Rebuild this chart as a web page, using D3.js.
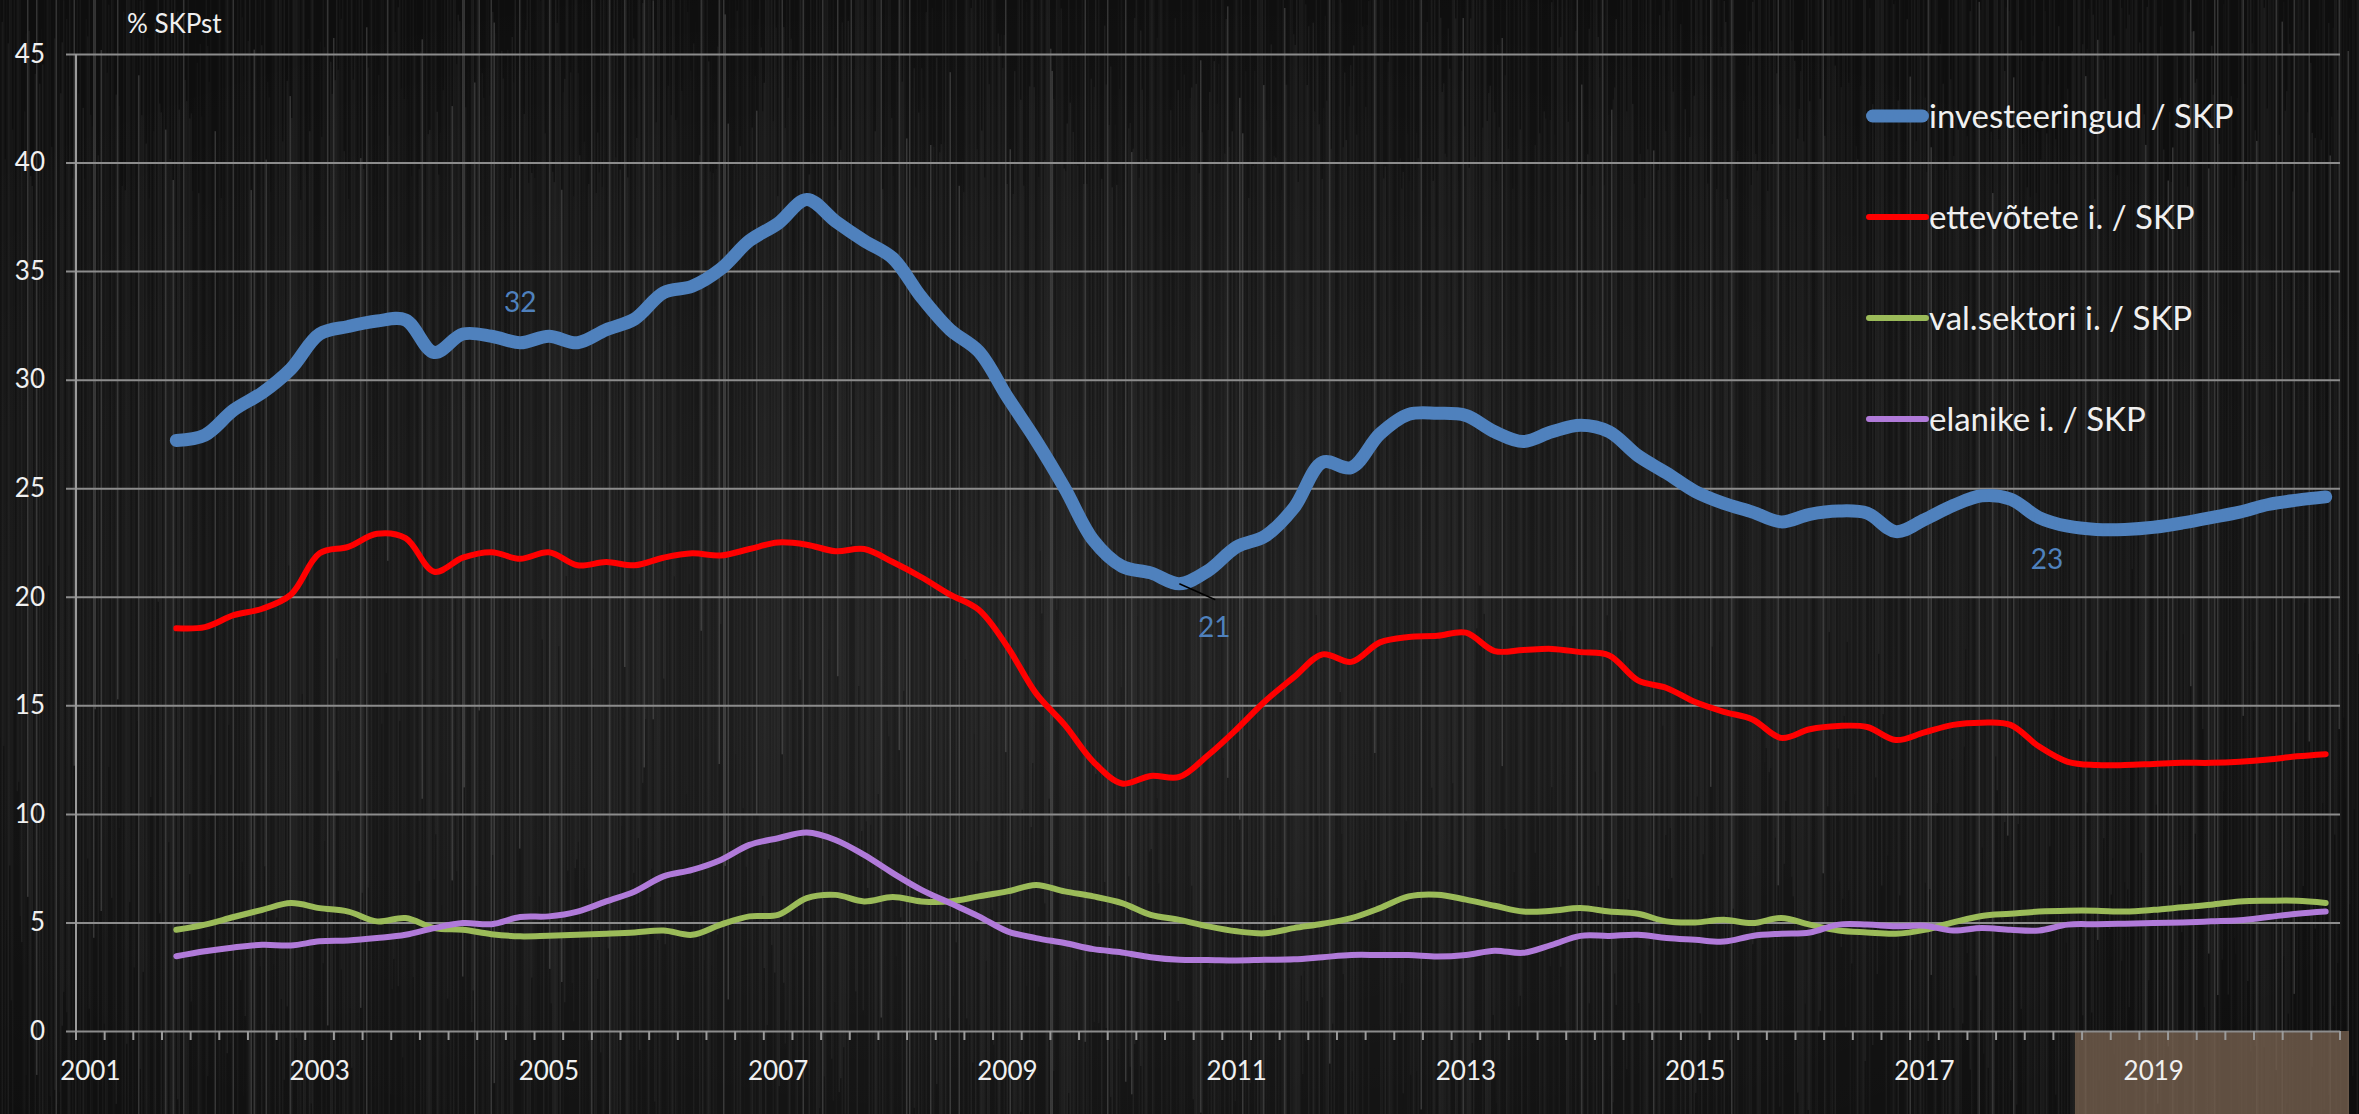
<!DOCTYPE html>
<html>
<head>
<meta charset="utf-8">
<script src="https://cdn.jsdelivr.net/npm/d3@7"></script>
<style>
body { margin: 0; background: #000; overflow: hidden; }
svg { display: block; }
text { font-family: Lato, "Open Sans", sans-serif; fill: #f0f0f0; }
</style>
</head>
<body>
<svg id="chart" width="2359" height="1114"></svg>
<script>
// quarterly data, first point is 2001 Q4, last is 2020 Q3
var years = ["2001","2002","2003","2004","2005","2006","2007","2008","2009","2010",
             "2011","2012","2013","2014","2015","2016","2017","2018","2019","2020"];
var yearLabels = ["2001","2003","2005","2007","2009","2011","2013","2015","2017","2019"];
var yTicks = [0,5,10,15,20,25,30,35,40,45];
var firstIndex = 3;

var invest = [27.2, 27.45, 28.6, 29.4, 30.5, 32.1, 32.45, 32.7, 32.75,
  31.25, 32.1, 32.0, 31.7, 32.0, 31.7, 32.3, 32.8,
  34.0, 34.3, 35.1, 36.4, 37.2, 38.3, 37.3, 36.4,
  35.6, 33.8, 32.3, 31.3, 29.2, 27.2, 25.0, 22.6,
  21.4, 21.1, 20.6, 21.2, 22.3, 22.8, 24.1, 26.2,
  25.95, 27.5, 28.4, 28.45, 28.35, 27.6, 27.15, 27.6,
  27.9, 27.6, 26.5, 25.7, 24.85, 24.3, 23.9, 23.45,
  23.8, 23.95, 23.85, 23.0, 23.55, 24.2, 24.65, 24.5,
  23.65, 23.25, 23.1, 23.1, 23.2, 23.4, 23.65, 23.9,
  24.25, 24.45, 24.6];

var business = [18.55, 18.6, 19.15, 19.45, 20.1, 22.0, 22.3, 22.9, 22.7,
  21.15, 21.8, 22.05, 21.75, 22.05, 21.45, 21.6, 21.45,
  21.8, 22.0, 21.9, 22.2, 22.5, 22.4, 22.1, 22.2,
  21.6, 20.9, 20.1, 19.4, 17.7, 15.55, 14.1, 12.4,
  11.4, 11.75, 11.7, 12.7, 13.9, 15.2, 16.3, 17.35,
  17.0, 17.9, 18.15, 18.2, 18.35, 17.5, 17.55, 17.6,
  17.45, 17.3, 16.15, 15.8, 15.15, 14.7, 14.35, 13.5,
  13.9, 14.05, 14.0, 13.4, 13.75, 14.1, 14.2, 14.1,
  13.1, 12.4, 12.25, 12.25, 12.3, 12.35, 12.35, 12.4,
  12.5, 12.65, 12.75];

var government = [4.66, 4.9, 5.25, 5.58, 5.89, 5.66, 5.5, 5.05, 5.2,
  4.74, 4.66, 4.46, 4.36, 4.39, 4.43, 4.48, 4.54,
  4.63, 4.43, 4.9, 5.28, 5.35, 6.12, 6.27, 5.97,
  6.17, 5.97, 5.97, 6.2, 6.43, 6.73, 6.43, 6.2,
  5.89, 5.35, 5.12, 4.82, 4.59, 4.5, 4.74, 4.94,
  5.2, 5.66, 6.2, 6.28, 6.05, 5.77, 5.5, 5.54,
  5.66, 5.5, 5.4, 5.05, 5.0, 5.12, 4.97, 5.2,
  4.9, 4.63, 4.54, 4.48, 4.66, 5.0, 5.3, 5.4,
  5.5, 5.54, 5.54, 5.5, 5.58, 5.7, 5.82, 5.97,
  6.0, 6.0, 5.9];

var households = [3.44, 3.67, 3.85, 3.97, 3.94, 4.13, 4.17, 4.28, 4.43,
  4.74, 4.97, 4.92, 5.25, 5.28, 5.5, 5.97, 6.43,
  7.12, 7.42, 7.88, 8.57, 8.88, 9.14, 8.8, 8.11,
  7.27, 6.5, 5.89, 5.28, 4.59, 4.28, 4.05, 3.77,
  3.62, 3.4, 3.28, 3.27, 3.25, 3.28, 3.3, 3.4,
  3.5, 3.5, 3.5, 3.43, 3.5, 3.7, 3.6, 3.97,
  4.38, 4.38, 4.43, 4.28, 4.2, 4.12, 4.38, 4.48,
  4.54, 4.9, 4.9, 4.82, 4.85, 4.63, 4.74, 4.66,
  4.63, 4.9, 4.92, 4.94, 4.97, 5.0, 5.05, 5.1,
  5.25, 5.4, 5.5];

var seriesNames = ["investeeringud / SKP", "ettevõtete i. / SKP", "val.sektori i. / SKP", "elanike i. / SKP"];
var seriesColors = ["#4f81bd", "#ff0000", "#9bbb59", "#b07ad9"];
var seriesWidths = [13, 6, 6, 6];
var seriesValues = [invest, business, government, households];

// category axis: 2001 Q1 ... 2020 Q3
var categories = [];
years.forEach(function(yr) {
  ["Q1","Q2","Q3","Q4"].forEach(function(q) { categories.push(yr + " " + q); });
});
categories = categories.slice(0, 79);

var W = 2359, H = 1114;
var svg = d3.select("#chart");

// brushed dark background
function noise(n) { var s = Math.sin(n * 12.9898 + 78.233) * 43758.5453; return s - Math.floor(s); }
var defs = svg.append("defs");
var glow = defs.append("radialGradient").attr("id", "glow").attr("cx", "45%").attr("cy", "60%").attr("r", "65%");
glow.append("stop").attr("offset", "0%").attr("stop-color", "#fff").attr("stop-opacity", 0.07);
glow.append("stop").attr("offset", "100%").attr("stop-color", "#fff").attr("stop-opacity", 0);

svg.append("rect").attr("width", W).attr("height", H).attr("fill", "#0e0e0e");
var bg = svg.append("g");
bg.selectAll("rect.streak")
  .data(d3.range(0, W, 1.5))
  .enter().append("rect")
  .attr("class", "streak")
  .attr("x", function(d) { return d; })
  .attr("y", function(d, i) { return noise(i * 3.1) * 400 - 200; })
  .attr("width", 1.5)
  .attr("height", function(d, i) { return 700 + noise(i * 7.7) * 900; })
  .attr("fill", "#fff")
  .attr("opacity", function(d, i) { var n = noise(i); return n > 0.93 ? 0.16 : n * 0.07; });
svg.append("rect").attr("width", W).attr("height", H).attr("fill", "url(#glow)");

var x = d3.scaleBand().domain(categories).range([76, 2340]).padding(0);
var y = d3.scaleLinear().domain([0, 45]).range([1031, 54]);
// i is the position inside the series arrays
var cx = function(i) { return x(categories[i + firstIndex]) + x.bandwidth() / 2; };

// forecast shading behind the axis
svg.append("rect")
  .attr("x", x(categories[70]) - x.step() / 4)
  .attr("y", y(0))
  .attr("width", x.range()[1] + 9 - (x(categories[70]) - x.step() / 4))
  .attr("height", H - y(0))
  .attr("fill", "#77614f")
  .attr("opacity", 0.78);

// y gridlines + labels
var yAxis = svg.append("g")
  .attr("transform", "translate(66,0)")
  .call(d3.axisLeft(y).tickValues(yTicks).tickSize(-(2340 - 66)).tickPadding(21));
yAxis.select(".domain").remove();
yAxis.selectAll(".tick line").attr("stroke", "#8c8c8c").attr("stroke-width", 2);
yAxis.selectAll(".tick text").attr("font-size", 26).style("font-family", "Lato").attr("fill", "#f0f0f0");

svg.append("line")
  .attr("x1", 76).attr("x2", 76).attr("y1", y(45)).attr("y2", y(0) + 9)
  .attr("stroke", "#9a9a9a").attr("stroke-width", 2);

// quarter tick marks on the category boundaries
var bounds = categories.map(function(c) { return x(c); }).concat([x.range()[1]]);
svg.append("g").selectAll("line")
  .data(bounds)
  .enter().append("line")
  .attr("x1", function(d) { return d; }).attr("x2", function(d) { return d; })
  .attr("y1", y(0)).attr("y2", y(0) + 9)
  .attr("stroke", "#9a9a9a").attr("stroke-width", 2);

var xAxis = svg.append("g")
  .attr("transform", "translate(0," + y(0) + ")")
  .call(d3.axisBottom(x)
    .tickValues(yearLabels.map(function(yr) { return yr + " Q1"; }))
    .tickFormat(function(d) { return d.slice(0, 4); })
    .tickSize(0).tickPadding(31));
xAxis.select(".domain").remove();
xAxis.selectAll(".tick text").attr("font-size", 26).style("font-family", "Lato").attr("fill", "#f0f0f0");

svg.append("text")
  .attr("x", 127).attr("y", 33)
  .attr("font-size", 26)
  .text("% SKPst");

// lines
var line = d3.line()
  .x(function(d, i) { return cx(i); })
  .y(function(d) { return y(d); })
  .curve(d3.curveCatmullRom.alpha(0.5));

seriesValues.forEach(function(vals, k) {
  svg.append("path")
    .datum(vals)
    .attr("fill", "none")
    .attr("stroke", seriesColors[k])
    .attr("stroke-width", seriesWidths[k])
    .attr("stroke-linecap", "round")
    .attr("stroke-linejoin", "round")
    .attr("d", line);
});

// value labels on the total investment line
var labelIdx = [12, 35, 65];
var labelText = ["32", "21", "23"];
var labelDx = [0, 35, 8];
var labelDy = [-41, 43, 42];
svg.append("line")
  .attr("x1", cx(35)).attr("y1", y(invest[35]))
  .attr("x2", cx(35) + 36).attr("y2", y(invest[35]) + 16)
  .attr("stroke", "#000").attr("stroke-width", 1.5);
labelIdx.forEach(function(idx, k) {
  svg.append("text")
    .attr("x", cx(idx) + labelDx[k])
    .attr("y", y(invest[idx]) + labelDy[k])
    .attr("dy", "0.35em")
    .attr("text-anchor", "middle")
    .attr("font-size", 28)
    .style("fill", "#4f81bd")
    .text(labelText[k]);
});

// legend
var legend = svg.append("g").attr("transform", "translate(1866,116)");
seriesNames.forEach(function(name, k) {
  var g = legend.append("g").attr("transform", "translate(0," + (k * 101) + ")");
  g.append("line")
    .attr("x1", seriesWidths[k] / 2).attr("x2", 63 - seriesWidths[k] / 2)
    .attr("stroke", seriesColors[k])
    .attr("stroke-width", seriesWidths[k])
    .attr("stroke-linecap", "round");
  g.append("text")
    .attr("x", 63).attr("dy", "0.36em")
    .attr("font-size", 33)
    .text(name);
});
</script>
</body>
</html>
